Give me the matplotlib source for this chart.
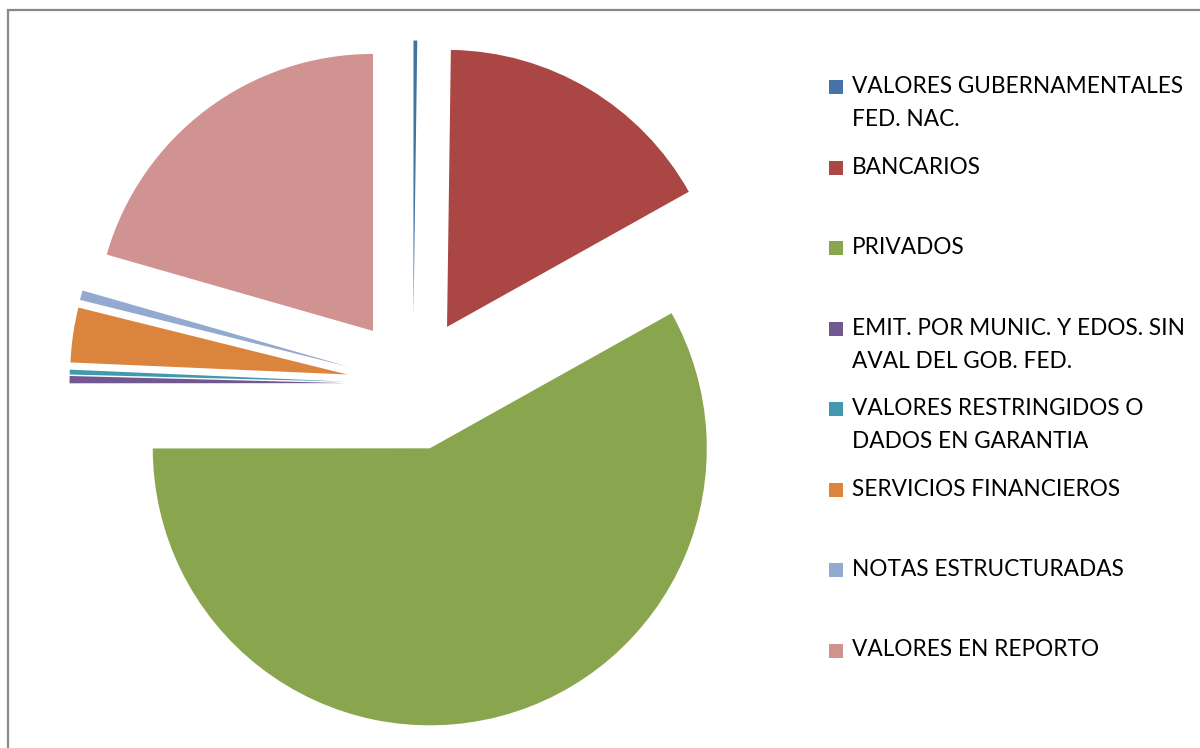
import matplotlib.pyplot as plt
from matplotlib.patches import Rectangle

# portfolio composition, percent of total
categories = ['VALORES GUBERNAMENTALES\nFED. NAC.',
              'BANCARIOS',
              'PRIVADOS',
              'EMIT. POR MUNIC. Y EDOS. SIN\nAVAL DEL GOB. FED.',
              'VALORES RESTRINGIDOS O\nDADOS EN GARANTIA',
              'SERVICIOS FINANCIEROS',
              'NOTAS ESTRUCTURADAS',
              'VALORES EN REPORTO']
values = [0.22, 16.67, 58.11, 0.42, 0.28, 3.19, 0.56, 20.56]
colors = ['#4572A7', '#AA4643', '#89A54E', '#71588F',
          '#4198AF', '#DB843D', '#93A9CF', '#D19392']

W, H = 1200, 748
R = 277
plt.rcParams['font.family'] = ['Lato', 'DejaVu Sans']

fig = plt.figure(figsize=(W / 100, H / 100), dpi=100)
ax = fig.add_axes([0, 0, 1, 1])

# pie's explode offset is in data units, so scale it by the radius
ax.pie(values, colors=colors, startangle=90, counterclock=False,
       center=(413, H - 384), radius=R, explode=[0.24 * R] * len(values),
       wedgeprops=dict(linewidth=0))

ax.set_xlim(0, W)
ax.set_ylim(0, H)
ax.set_aspect('equal')
ax.axis('off')

# chart area border (left and top edges only show)
ax.plot([8, 8, W], [0, H - 10, H - 10], color='#888888', lw=1.6,
        solid_joinstyle='miter')

# legend
base0, step, line_gap = 93, 80.5, 33
for i, (lab, col) in enumerate(zip(categories, colors)):
    base = base0 + i * step
    ax.add_patch(Rectangle((829, H - base - 1), 14, 14, facecolor=col,
                           edgecolor='none'))
    for j, line in enumerate(lab.split('\n')):
        ax.text(852, H - base - j * line_gap, line, fontsize=16.3,
                color='black', va='baseline', ha='left')

fig.savefig('out.png', dpi=100)
